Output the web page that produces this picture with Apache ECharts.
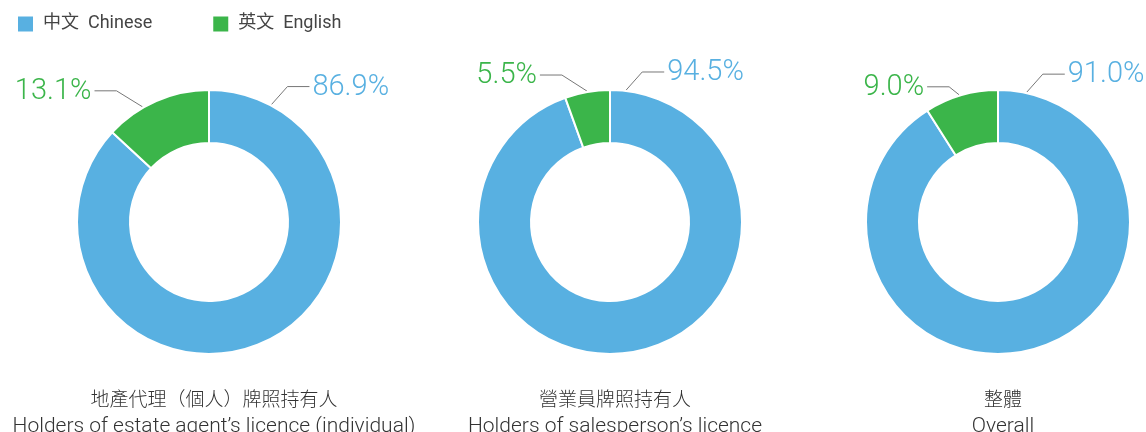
<!DOCTYPE html>
<html>
<head>
<meta charset="utf-8">
<script src="https://cdn.jsdelivr.net/npm/echarts@6/dist/echarts.min.js"></script>
<style>
  html, body { margin: 0; padding: 0; background: #fff; }
  #chart { width: 1146px; height: 432px; }
</style>
</head>
<body>
<div id="chart"></div>
<script>
// 數據
const seriesNames = ['中文  Chinese', '英文  English']
const chineseShare = [86.9, 94.5, 91.0]
const englishShare = [13.1, 5.5, 9.0]
const titlesZh = ['地產代理（個人）牌照持有人', '營業員牌照持有人', '整體']
const titlesEn = ['Holders of estate agent’s licence (individual)', 'Holders of salesperson’s licence', 'Overall']

const colors = ['#58b0e1', '#3bb54a']
const font = 'Roboto, "Noto Sans CJK TC", sans-serif'

// 每個圓環的位置
const centersX = [209, 610, 998]
const centerY = 222
const outerR = 132
const innerR = 79
// 標籤引線起點角度 (由頂部量起, 度)
const greenAngle = [30, 10, 17]
const blueAngle = [28, 7, 12.5]
// 標籤引線 (綠色那邊) 的上升高度 / 水平偏移
const greenRise = [16, 16, 8]
const greenRun = [26, 25, 10]

const chart = echarts.init(document.getElementById('chart'))

const makeLayout = (si) => (params) => {
    const cx = centersX[si]
    const side = params.dataIndex === 0 ? 1 : -1
    const ang = (side > 0 ? blueAngle[si] : greenAngle[si]) * Math.PI / 180
    const r = outerR + 1
    const start = [cx + side * r * Math.sin(ang), centerY - r * Math.cos(ang)]
    const elbow = side > 0
        ? [start[0] + 16, start[1] - 18]
        : [start[0] - greenRun[si], start[1] - greenRise[si]]
    const end = [elbow[0] + side * 22, elbow[1]]
    return {
        x: end[0] + side * 3,
        y: end[1] + 1,
        align: side > 0 ? 'left' : 'right',
        verticalAlign: 'middle',
        labelLinePoints: [start, elbow, end]
    }
}

const series = chineseShare.map((v, i) => ({
    type: 'pie',
    center: [centersX[i], centerY],
    radius: [innerR, outerR],
    startAngle: 90,
    clockwise: true,
    silent: true,
    itemStyle: { borderColor: '#fff', borderWidth: 2 },
    label: {
        show: true,
        position: 'outside',
        formatter: (p) => p.value.toFixed(1) + '%',
        fontFamily: font,
        fontWeight: 300,
        fontSize: 29,
        overflow: 'none'
    },
    labelLine: { show: true, lineStyle: { color: '#777', width: 1 } },
    labelLayout: makeLayout(i),
    data: [
        { name: seriesNames[0], value: v, itemStyle: { color: colors[0] }, label: { color: colors[0] } },
        { name: seriesNames[1], value: englishShare[i], itemStyle: { color: colors[1] }, label: { color: colors[1] } }
    ]
}))

const titles = titlesZh.map((t, i) => ({
    text: '{zh|' + t + '}\n{en|' + titlesEn[i] + '}',
    left: centersX[i],
    top: 383,
    textAlign: 'center',
    textStyle: {
        rich: {
            zh: { fontFamily: font, fontWeight: 300, fontSize: 19, color: '#333', lineHeight: 27 },
            en: { fontFamily: font, fontWeight: 300, fontSize: 21, color: '#333', lineHeight: 23 }
        }
    }
}))

chart.setOption({
    animation: false,
    title: titles,
    legend: {
        left: 13,
        top: 10,
        icon: 'rect',
        itemWidth: 15,
        itemHeight: 15,
        itemGap: 61,
        selectedMode: false,
        data: seriesNames,
        itemStyle: { borderWidth: 0 },
        textStyle: { fontFamily: font, fontSize: 18, color: '#444', padding: [0, 0, 0, 5] }
    },
    series: series
})
</script>
</body>
</html>
